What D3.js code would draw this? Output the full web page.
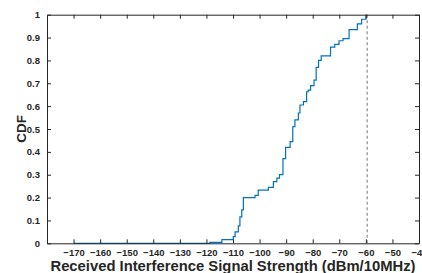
<!DOCTYPE html>
<html>
<head>
<meta charset="utf-8">
<script src="https://cdn.jsdelivr.net/npm/d3@7"></script>
<style>
  html, body { margin: 0; padding: 0; background: #fff; }
  svg { display: block; font-family: "Liberation Sans", Arial, Helvetica, sans-serif; }
</style>
</head>
<body>
<div id="chart"></div>
<script>
// step CDF: signal level (dBm/10MHz) where the CDF jumps, and the new value
const stepX = [-170, -118.7, -114.2, -109.9, -109.2, -108.0, -107.4, -106.7, -106.1, -101.7, -100.5,
    -96.7, -94.8, -93.5, -92.5, -91.2, -90.2, -88.5, -87.5, -86.7, -85.4, -84.8, -83.5, -82.3, -81.7,
    -80.8, -79.5, -78.7, -77.8, -76.8, -73.3, -71.7, -70.1, -68.6, -66.3, -63.2, -61.6, -60.0, -59.5];
const stepY = [0, 0.004, 0.016, 0.029, 0.05, 0.076, 0.116, 0.146, 0.2, 0.21, 0.233,
    0.245, 0.27, 0.285, 0.3, 0.37, 0.42, 0.445, 0.51, 0.54, 0.57, 0.605, 0.62, 0.663, 0.67,
    0.69, 0.714, 0.77, 0.8, 0.82, 0.858, 0.87, 0.886, 0.895, 0.935, 0.96, 0.98, 0.997, 1];
const markerX = -59.5;
const xTicks = [-170, -160, -150, -140, -130, -120, -110, -100, -90, -80, -70, -60, -50, -40];
const yTicks = [0, 0.1, 0.2, 0.3, 0.4, 0.5, 0.6, 0.7, 0.8, 0.9, 1];

const margin = { top: 14.7, right: 3, bottom: 29.7, left: 47 };
const width = 422 - margin.left - margin.right;
const height = 273 - margin.top - margin.bottom;
const axisColor = "#262626";

const svg = d3.select("#chart")
    .append("svg")
    .attr("width", 422)
    .attr("height", 273)
    .append("g")
    .attr("transform", `translate(${margin.left},${margin.top})`);

const x = d3.scaleLinear().domain([-180, -40]).range([0, width]);
const y = d3.scaleLinear().domain([0, 1]).range([height, 0]);

const data = stepX.map((v, i) => ({ x: v, y: stepY[i] }));

// the curve
svg.append("path")
    .datum(data)
    .attr("fill", "none")
    .attr("stroke", "#0072BD")
    .attr("stroke-width", 1.2)
    .attr("d", d3.line().x(d => x(d.x)).y(d => y(d.y)).curve(d3.curveStepAfter));

// dashed marker
svg.append("line")
    .attr("x1", x(markerX)).attr("x2", x(markerX))
    .attr("y1", y(0)).attr("y2", y(1))
    .attr("stroke", "#8c8c8c")
    .attr("stroke-width", 1.2)
    .attr("stroke-dasharray", "3,2.5");

// axes, MATLAB box style with inward ticks
function styleAxis(g, labels) {
    g.select(".domain").attr("stroke", axisColor);
    g.selectAll(".tick line").attr("stroke", axisColor);
    g.selectAll(".tick text")
        .attr("fill", labels ? axisColor : "none")
        .attr("font-size", "9.5px")
        .attr("font-weight", "bold")
        .attr("font-family", "Liberation Sans, Arial, sans-serif");
}

svg.append("g")
    .attr("transform", `translate(0,${height})`)
    .call(d3.axisBottom(x).tickValues(xTicks).tickSize(-4).tickSizeOuter(0).tickPadding(6).tickFormat(d3.format("d")))
    .call(g => styleAxis(g, true));

svg.append("g")
    .call(d3.axisTop(x).tickValues(xTicks).tickSize(-4).tickSizeOuter(0).tickFormat(""))
    .call(g => styleAxis(g, false));

svg.append("g")
    .call(d3.axisLeft(y).tickValues(yTicks).tickSize(-4).tickSizeOuter(0).tickPadding(7).tickFormat(d => d))
    .call(g => styleAxis(g, true));

svg.append("g")
    .attr("transform", `translate(${width},0)`)
    .call(d3.axisRight(y).tickValues(yTicks).tickSize(-4).tickSizeOuter(0).tickFormat(""))
    .call(g => styleAxis(g, false));

svg.append("text")
    .attr("x", width / 2)
    .attr("y", height + 27.5)
    .attr("text-anchor", "middle")
    .attr("font-size", "14.8px")
    .attr("font-weight", "bold")
    .attr("fill", axisColor)
    .text("Received Interference Signal Strength (dBm/10MHz)");

svg.append("text")
    .attr("transform", "rotate(-90)")
    .attr("x", -height / 2)
    .attr("y", -21)
    .attr("text-anchor", "middle")
    .attr("font-size", "13.5px")
    .attr("font-weight", "bold")
    .attr("fill", axisColor)
    .text("CDF");
</script>
</body>
</html>
